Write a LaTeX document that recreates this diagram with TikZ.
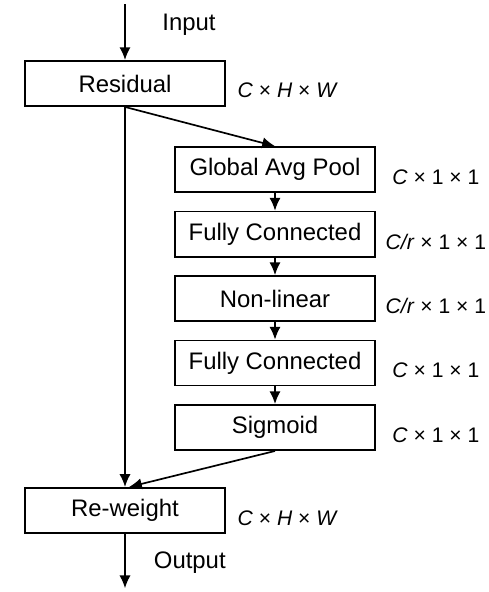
\documentclass[tikz,border=0pt]{standalone}
\usepackage{fontspec}
\setmainfont{Liberation Sans}
\usetikzlibrary{arrows.meta, positioning}

\begin{document}
\begin{tikzpicture}[node distance = 0.44cm, auto]
\tikzstyle{block} = [rectangle, draw, line width=1.2pt, text = black,
    minimum width=5cm, minimum height=1.13cm, font=\fontsize{17}{20}\selectfont]
\tikzstyle{tag} = [font=\fontsize{17}{20}\selectfont]
\tikzstyle{dims} = [font=\fontsize{15}{18}\selectfont]
\tikzstyle{line} = [draw, line width=1.2pt, -{Latex[length=3.2mm,width=2.8mm]}]
\useasboundingbox (-3.125,-12.7125) rectangle (9.075,2.0875);
    % Place nodes
    \node [block] (residual) at (0,0) {Residual};
    \node [block, below=0.98cm of residual, xshift=3.75cm] (pool) {Global Avg Pool};
    \node [block, below=of pool] (fc1) {Fully Connected};
    \node [block, below=of fc1] (nonlin) {Non-linear};
    \node [block, below=of nonlin] (fc2) {Fully Connected};
    \node [block, below=of fc2] (sigmoid) {Sigmoid};
    \node [block, below=0.9cm of sigmoid, xshift=-3.75cm] (reweight) {Re-weight};
    \coordinate [above=1.4cm of residual] (in);
    \coordinate [below=1.36cm of reweight] (out);

    % labels
    \node [tag] (inlabel) at ([xshift=1.6cm,yshift=1.46cm]residual.center) {Input};
    \node [tag] (outlabel) at ([xshift=1.62cm,yshift=-1.3cm]reweight.center) {Output};
    \node [dims] (resdim) at ([xshift=1.55cm,yshift=-0.17cm]residual.east) {\textit{C} × \textit{H} × \textit{W}};
    \node [dims] (pooldim) at ([xshift=1.5cm,yshift=-0.19cm]pool.east) {\textit{C} × 1 × 1};
    \node [dims] (fc1dim) at ([xshift=1.5cm,yshift=-0.19cm]fc1.east) {\textit{C/r} × 1 × 1};
    \node [dims] (nonlindim) at ([xshift=1.5cm,yshift=-0.19cm]nonlin.east) {\textit{C/r} × 1 × 1};
    \node [dims] (fc2dim) at ([xshift=1.5cm,yshift=-0.19cm]fc2.east) {\textit{C} × 1 × 1};
    \node [dims] (sigdim) at ([xshift=1.5cm,yshift=-0.19cm]sigmoid.east) {\textit{C} × 1 × 1};
    \node [dims] (rwdim) at ([xshift=1.55cm,yshift=-0.2cm]reweight.east) {\textit{C} × \textit{H} × \textit{W}};

%paths
    \path [line] (in) -- (residual);
    \path [line] (residual.south) -- (pool.north);
    \path [line] (pool) -- (fc1);
    \path [line] (fc1) -- (nonlin);
    \path [line] (nonlin) -- (fc2);
    \path [line] (fc2) -- (sigmoid);
    \path [line] (residual) -- (reweight);
    \path [line] (sigmoid.south) -- ([xshift=0.1cm]reweight.north);
    \path [line] (reweight) -- (out);

\end{tikzpicture}
\end{document}
